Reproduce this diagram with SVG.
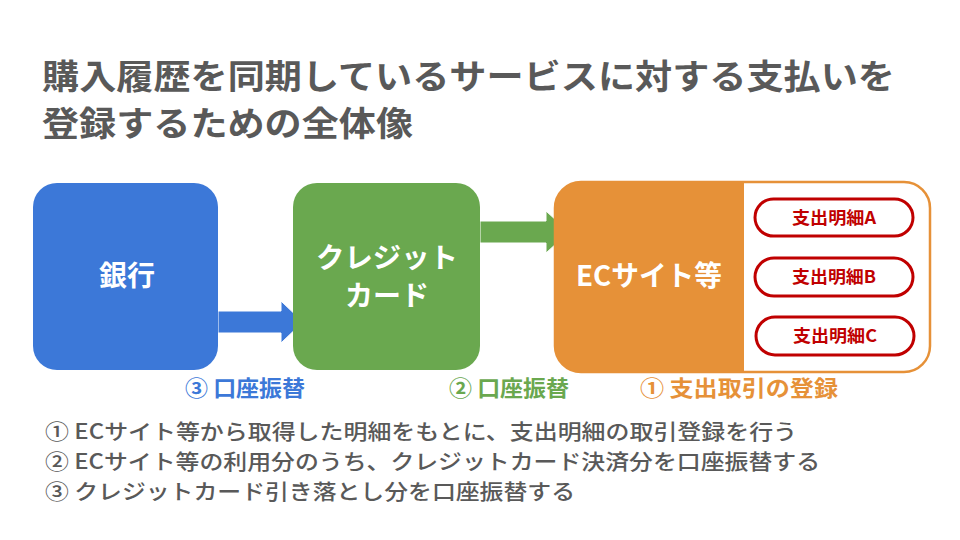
<svg xmlns="http://www.w3.org/2000/svg" width="960" height="540" viewBox="0 0 960 540">
<style>
text{font-family:"Noto Sans CJK JP","Noto Sans",sans-serif;font-weight:bold}
.t{font-size:34px;fill:#595959}
.w{fill:#fff;font-size:28px;text-anchor:middle}
.p{fill:#fff;stroke:#c00000;stroke-width:3}
.pt{fill:#c00000;font-size:17px;text-anchor:middle}
.l{font-size:22px;text-anchor:middle}
.n{font-size:21px;fill:#595959;font-weight:500}
</style>
<rect width="960" height="540" fill="#fff"/>
<text class="t" x="42" y="89" textLength="853" lengthAdjust="spacingAndGlyphs">購入履歴を同期しているサービスに対する支払いを</text>
<text class="t" x="42" y="136" textLength="371" lengthAdjust="spacingAndGlyphs">登録するための全体像</text>
<g id="connectors">
<polygon points="218,311 281,311 281,301 303,322 281,343 281,333 218,333" fill="#3c78d8" stroke="#fff" stroke-width="1"/>
<polygon points="480,221 546,221 546,211 569,232 546,253 546,243 480,243" fill="#6aa84f" stroke="#fff" stroke-width="1"/>
</g>
<g id="bank"><rect x="33" y="183" width="185" height="187" rx="24" fill="#3c78d8"/><text class="w" x="127" y="286">銀行</text></g>
<g id="card"><rect x="293" y="183" width="187" height="187" rx="24" fill="#6aa84f"/><text class="w" x="387" y="268" textLength="142" lengthAdjust="spacingAndGlyphs">クレジット</text><text class="w" x="387" y="306">カード</text></g>
<g id="ec"><rect x="555" y="182" width="375" height="190" rx="26" fill="#fff" stroke="#e69138" stroke-width="2.5"/>
<path d="M581,182 H744 V372 H581 A26,26 0 0 1 555,346 V208 A26,26 0 0 1 581,182 Z" fill="#e69138"/>
<text class="w" x="649" y="286" textLength="146" lengthAdjust="spacingAndGlyphs">ECサイト等</text></g>
<g id="a"><rect class="p" x="755" y="199" width="158" height="37" rx="18.5"/><text class="pt" x="834" y="224" textLength="84" lengthAdjust="spacingAndGlyphs">支出明細A</text></g>
<g id="b"><rect class="p" x="755" y="258" width="158" height="38" rx="19"/><text class="pt" x="834" y="283" textLength="84" lengthAdjust="spacingAndGlyphs">支出明細B</text></g>
<g id="c"><rect class="p" x="756" y="317" width="158" height="38" rx="19"/><text class="pt" x="835" y="342" textLength="84" lengthAdjust="spacingAndGlyphs">支出明細C</text></g>
<text class="l" x="245" y="396" fill="#3c78d8" textLength="120" lengthAdjust="spacingAndGlyphs">③ 口座振替</text>
<text class="l" x="509" y="396" fill="#6aa84f" textLength="120" lengthAdjust="spacingAndGlyphs">② 口座振替</text>
<text class="l" x="739" y="396" fill="#e69138" textLength="198" lengthAdjust="spacingAndGlyphs">① 支出取引の登録</text>
<text class="n" x="45" y="439" textLength="752" lengthAdjust="spacingAndGlyphs">① ECサイト等から取得した明細をもとに、支出明細の取引登録を行う</text>
<text class="n" x="45" y="469" textLength="775" lengthAdjust="spacingAndGlyphs">② ECサイト等の利用分のうち、クレジットカード決済分を口座振替する</text>
<text class="n" x="45" y="499" textLength="530" lengthAdjust="spacingAndGlyphs">③ クレジットカード引き落とし分を口座振替する</text>
</svg>
